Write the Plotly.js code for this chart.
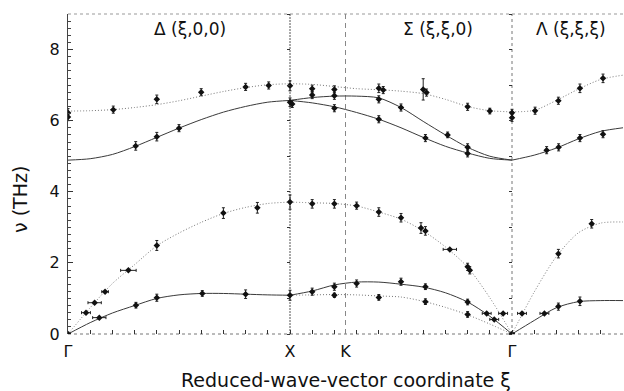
<!DOCTYPE html>
<html>
<head>
<meta charset="utf-8">
<script src="https://cdn.plot.ly/plotly-3.0.1.min.js"></script>
<style>
html,body{margin:0;padding:0;background:#fff;}
#wrap{position:relative;width:624px;height:391px;}
#chart,#ticks{position:absolute;left:0;top:0;width:624px;height:391px;}
#ticks{pointer-events:none;}
</style>
</head>
<body>
<div id="wrap"><div id="chart"></div><div id="ticks"></div></div>
<script>
// ---- symmetry points along the path (axis coordinate) ----
const symPos = [0, 1, 1.25, 2, 2.5];
const symLabels = ["Γ", "X", "K", "Γ", "L"];

// ---- dispersion curves: Δ (ξ,0,0), Γ -> X ----
const deltaXi = [0, 0.1, 0.2, 0.3, 0.4, 0.5, 0.6, 0.7, 0.8, 0.9, 1.0];
const deltaLO = [6.27, 6.28, 6.31, 6.37, 6.45, 6.56, 6.69, 6.82, 6.93, 7.01, 7.04];
const deltaTO = [4.89, 4.93, 5.05, 5.27, 5.53, 5.79, 6.03, 6.24, 6.40, 6.52, 6.57];
const deltaLA = [0, 0.74, 1.42, 1.95, 2.48, 2.84, 3.14, 3.39, 3.56, 3.67, 3.71];
const deltaTA = [0, 0.32, 0.59, 0.80, 1.00, 1.10, 1.14, 1.14, 1.12, 1.10, 1.09];

// ---- Σ (ξ,ξ,0), X -> K -> Γ (ξ from 1 to 0) ----
const sigmaXi = [1.0, 0.9, 0.8, 0.7, 0.6, 0.5, 0.4, 0.3, 0.2, 0.1, 0.0];
const sigmaTop = [7.04, 7.02, 6.96, 6.90, 6.87, 6.83, 6.76, 6.60, 6.40, 6.28, 6.25];
const sigmaMid = [6.57, 6.65, 6.69, 6.69, 6.64, 6.37, 5.98, 5.60, 5.25, 5.00, 4.89];
const sigmaLow = [6.57, 6.50, 6.39, 6.23, 6.04, 5.80, 5.53, 5.28, 5.09, 4.94, 4.89];
const sigmaLA = [3.71, 3.69, 3.67, 3.60, 3.43, 3.23, 2.90, 2.45, 1.88, 1.02, 0];
const sigmaTA1 = [1.09, 1.21, 1.38, 1.46, 1.46, 1.40, 1.32, 1.16, 0.90, 0.50, 0];
const sigmaTA2 = [1.09, 1.10, 1.11, 1.10, 1.07, 1.04, 0.92, 0.75, 0.54, 0.28, 0];

// ---- Λ (ξ,ξ,ξ), Γ -> L ----
const lambdaXi = [0, 0.1, 0.2, 0.3, 0.4, 0.5];
const lambdaTop = [6.25, 6.29, 6.57, 6.89, 7.16, 7.28];
const lambdaTO = [4.89, 5.03, 5.23, 5.49, 5.70, 5.80];
const lambdaLA = [0, 1.18, 2.18, 2.85, 3.12, 3.15];
const lambdaTA = [0, 0.38, 0.74, 0.91, 0.94, 0.94];

// ---- measured points (vertical error bars) ----
const deltaPtXi  = [0, 0, 0.204, 0.40, 0.60, 0.80, 0.904, 1.0, 0.305, 0.40, 0.50, 1.0, 1.01, 0.40, 0.70, 0.853, 1.0, 0.306, 0.40, 0.605, 0.80, 1.0];
const deltaPtNu  = [6.22, 6.10, 6.31, 6.60, 6.80, 6.95, 6.99, 6.98, 5.29, 5.55, 5.79, 6.52, 6.47, 2.49, 3.40, 3.55, 3.71, 0.81, 1.02, 1.14, 1.12, 1.09];
const deltaPtErr = [0.12, 0.10, 0.10, 0.12, 0.10, 0.10, 0.10, 0.14, 0.12, 0.12, 0.10, 0.12, 0.10, 0.14, 0.15, 0.15, 0.20, 0.08, 0.10, 0.08, 0.12, 0.14];

const sigmaPtXi  = [0.90, 0.90, 0.90, 0.90, 0.80, 0.80, 0.80, 0.80, 0.80, 0.80, 0.70, 0.70, 0.60, 0.58, 0.60, 0.60, 0.60, 0.60, 0.50, 0.50, 0.50, 0.40, 0.385, 0.39, 0.41, 0.39, 0.39, 0.39, 0.29, 0.20, 0.20, 0.20, 0.20, 0.19, 0.20, 0.20, 0.10, 0, 0];
const sigmaPtNu  = [6.90, 6.72, 3.66, 1.19, 6.88, 6.70, 6.35, 3.66, 1.33, 1.09, 3.61, 1.42, 6.91, 6.86, 6.60, 6.04, 3.43, 1.03, 6.37, 3.27, 1.47, 6.88, 6.79, 5.51, 2.98, 2.90, 1.33, 0.91, 5.60, 6.39, 5.25, 5.08, 1.89, 1.79, 0.90, 0.55, 6.27, 6.22, 6.08];
const sigmaPtErr = [0.10, 0.10, 0.12, 0.10, 0.10, 0.10, 0.10, 0.12, 0.10, 0.06, 0.10, 0.10, 0.12, 0.10, 0.10, 0.10, 0.12, 0.08, 0.10, 0.12, 0.10, 0.30, 0.10, 0.10, 0.15, 0.12, 0.08, 0.08, 0.08, 0.10, 0.10, 0.10, 0.10, 0.10, 0.08, 0.08, 0.08, 0.10, 0.10];

const lambdaPtXi  = [0.104, 0.209, 0.306, 0.41, 0.156, 0.21, 0.306, 0.41, 0.209, 0.359, 0.209, 0.306];
const lambdaPtNu  = [6.28, 6.56, 6.91, 7.19, 5.17, 5.25, 5.51, 5.62, 2.26, 3.10, 0.77, 0.92];
const lambdaPtErr = [0.10, 0.10, 0.12, 0.12, 0.10, 0.10, 0.10, 0.10, 0.12, 0.12, 0.10, 0.12];

// ---- measured points (horizontal error bars, constant-energy scans) ----
const deltaHbXi  = [0, 0.081, 0.12, 0.167, 0.272, 0.141];
const deltaHbNu  = [0, 0.60, 0.88, 1.19, 1.79, 0.46];
const deltaHbErr = [0.01, 0.02, 0.03, 0.015, 0.035, 0.03];
const sigmaHbXi  = [0.28, 0.114, 0.08, 0.04, 0];
const sigmaHbNu  = [2.38, 0.58, 0.41, 0.58, 0];
const sigmaHbErr = [0.03, 0.02, 0.02, 0.02, 0.01];
const lambdaHbXi  = [0.045, 0.146];
const lambdaHbNu  = [0.58, 0.58];
const lambdaHbErr = [0.02, 0.02];

// ---- map reduced coordinate ξ to position along the Γ-X-K-Γ-L path ----
const posDelta = xi => xi.map(v => v);
const posSigma = xi => xi.map(v => 2 - v);
const posLambda = xi => xi.map(v => 2 + v);

const FONT = 'DejaVu Sans, sans-serif';
const MARGIN = {l: 68, r: 1, t: 14, b: 57};

// ---- tick-only overlay (drawn first so nothing else can stop it) ----
const helper = {x: [symPos[0]], y: [0], mode: 'markers', marker: {opacity: 0}, showlegend: false, hoverinfo: 'skip'};
const tickTraces = [
  Object.assign({}, helper),
  Object.assign({}, helper, {xaxis: 'x', yaxis: 'y2'}),
  Object.assign({}, helper, {xaxis: 'x', yaxis: 'y3'})
];
const TK = {tickmode: 'linear', tick0: 0, tickwidth: 1, tickcolor: '#333', showticklabels: false,
  showgrid: false, zeroline: false, showline: false, fixedrange: true};
const tickLayout = {
  width: 624, height: 391, margin: MARGIN, showlegend: false,
  paper_bgcolor: 'rgba(0,0,0,0)', plot_bgcolor: 'rgba(0,0,0,0)',
  xaxis: Object.assign({range: [0, 2.5], dtick: 0.1, ticks: 'inside', ticklen: 4}, TK),
  yaxis: Object.assign({range: [0, 9], dtick: 2, ticks: 'inside', ticklen: 5,
    minor: {tickmode: 'linear', tick0: 0, dtick: 0.2, ticks: 'inside', ticklen: 3, tickwidth: 1, tickcolor: '#444'}}, TK),
  yaxis2: Object.assign({range: [0, 9], overlaying: 'y', anchor: 'free', position: 0.4, side: 'left',
    dtick: 1, ticks: 'outside', ticklen: 3}, TK),
  yaxis3: Object.assign({range: [0, 9], overlaying: 'y', anchor: 'free', position: 0.8, side: 'left',
    dtick: 1, ticks: 'outside', ticklen: 3}, TK)
};
try {
  Plotly.newPlot('ticks', tickTraces, tickLayout, {staticPlot: true, displayModeBar: false});
} catch (e) { console.error(e); }

// ---- main chart ----
const SOLID = {color: '#3a3a3a', width: 1, shape: 'spline', smoothing: 0.8};
const DOT = {color: '#777', width: 1, dash: '1px,2px', shape: 'spline', smoothing: 0.8};

const traces = [];
function curve(x, y, style) {
  traces.push({x: x, y: y, mode: 'lines', line: style, hoverinfo: 'skip', showlegend: false});
}
curve(posDelta(deltaXi), deltaLO, DOT);
curve(posDelta(deltaXi), deltaTO, SOLID);
curve(posDelta(deltaXi), deltaLA, DOT);
curve(posDelta(deltaXi), deltaTA, SOLID);
curve(posSigma(sigmaXi), sigmaTop, DOT);
curve(posSigma(sigmaXi), sigmaMid, SOLID);
curve(posSigma(sigmaXi), sigmaLow, SOLID);
curve(posSigma(sigmaXi), sigmaLA, DOT);
curve(posSigma(sigmaXi), sigmaTA1, SOLID);
curve(posSigma(sigmaXi), sigmaTA2, DOT);
curve(posLambda(lambdaXi), lambdaTop, DOT);
curve(posLambda(lambdaXi), lambdaTO, SOLID);
curve(posLambda(lambdaXi), lambdaLA, DOT);
curve(posLambda(lambdaXi), lambdaTA, SOLID);

const MARK = {symbol: 'diamond', size: 5, color: '#111'};
function pts(x, y, err) {
  traces.push({x: x, y: y, mode: 'markers', marker: MARK, showlegend: false,
    error_y: {type: 'data', array: err, visible: true, color: '#222', thickness: 1, width: 1.5}});
}
function hpts(x, y, err) {
  traces.push({x: x, y: y, mode: 'markers', marker: MARK, showlegend: false,
    error_x: {type: 'data', array: err, visible: true, color: '#222', thickness: 1, width: 1.5}});
}
pts(posDelta(deltaPtXi), deltaPtNu, deltaPtErr);
pts(posSigma(sigmaPtXi), sigmaPtNu, sigmaPtErr);
pts(posLambda(lambdaPtXi), lambdaPtNu, lambdaPtErr);
hpts(posDelta(deltaHbXi), deltaHbNu, deltaHbErr);
hpts(posSigma(sigmaHbXi), sigmaHbNu, sigmaHbErr);
hpts(posLambda(lambdaHbXi), lambdaHbNu, lambdaHbErr);

const layout = {
  width: 624, height: 391,
  margin: MARGIN,
  paper_bgcolor: '#fff', plot_bgcolor: '#fff',
  showlegend: false,
  font: {family: FONT, color: '#111'},
  xaxis: {range: [0, 2.5], tickmode: 'array', tickvals: symPos, ticktext: symLabels,
    ticks: '', ticklabelstandoff: 6, showline: false, showgrid: false, zeroline: false,
    tickfont: {size: 16, family: FONT, color: '#111'}, fixedrange: true},
  yaxis: {range: [0, 9], tickmode: 'linear', tick0: 0, dtick: 2, ticks: '',
    showline: true, linecolor: '#444', linewidth: 1, showgrid: false, zeroline: false,
    ticklabelstandoff: 4,
    tickfont: {size: 16, family: FONT, color: '#111'}, fixedrange: true},
  shapes: [
    {type: 'line', layer: 'below', xref: 'paper', yref: 'paper', x0: 0, x1: 1, y0: 1, y1: 1, line: {color: '#999', width: 1, dash: 'dot'}},
    {type: 'line', layer: 'below', xref: 'paper', yref: 'paper', x0: 0, x1: 1, y0: 0, y1: 0, line: {color: '#777', width: 1, dash: 'dot'}},
    {type: 'line', layer: 'below', xref: 'x', yref: 'paper', x0: symPos[1], x1: symPos[1], y0: 0, y1: 1, line: {color: '#555', width: 1, dash: '2px,1px'}},
    {type: 'line', layer: 'below', xref: 'x', yref: 'paper', x0: symPos[2], x1: symPos[2], y0: 0, y1: 1, line: {color: '#888', width: 1, dash: '5px,4px'}},
    {type: 'line', layer: 'below', xref: 'x', yref: 'paper', x0: symPos[3], x1: symPos[3], y0: 0, y1: 1, line: {color: '#777', width: 1, dash: 'dot'}}
  ],
  annotations: [
    {xref: 'paper', yref: 'paper', x: 0.2198, y: 0.953, xanchor: 'center', yanchor: 'middle', text: 'Δ (ξ,0,0)', showarrow: false, font: {size: 17, family: FONT, color: '#111'}},
    {xref: 'paper', yref: 'paper', x: 0.6667, y: 0.953, xanchor: 'center', yanchor: 'middle', text: 'Σ (ξ,ξ,0)', showarrow: false, font: {size: 17, family: FONT, color: '#111'}},
    {xref: 'paper', yref: 'paper', x: 0.906, y: 0.953, xanchor: 'center', yanchor: 'middle', text: 'Λ (ξ,ξ,ξ)', showarrow: false, font: {size: 17, family: FONT, color: '#111'}},
    {xref: 'paper', yref: 'paper', x: -0.0865, y: 0.422, xanchor: 'center', yanchor: 'middle', text: 'ν (THz)', textangle: -90, showarrow: false, font: {size: 19, family: FONT, color: '#111'}},
    {xref: 'paper', yref: 'paper', x: 0.501, y: -0.144, xanchor: 'center', yanchor: 'middle', text: 'Reduced-wave-vector coordinate ξ', showarrow: false, font: {size: 19, family: FONT, color: '#111'}}
  ]
};
try {
  Plotly.newPlot('chart', traces, layout, {staticPlot: true, displayModeBar: false});
} catch (e) { console.error(e); }
</script>
</body>
</html>
